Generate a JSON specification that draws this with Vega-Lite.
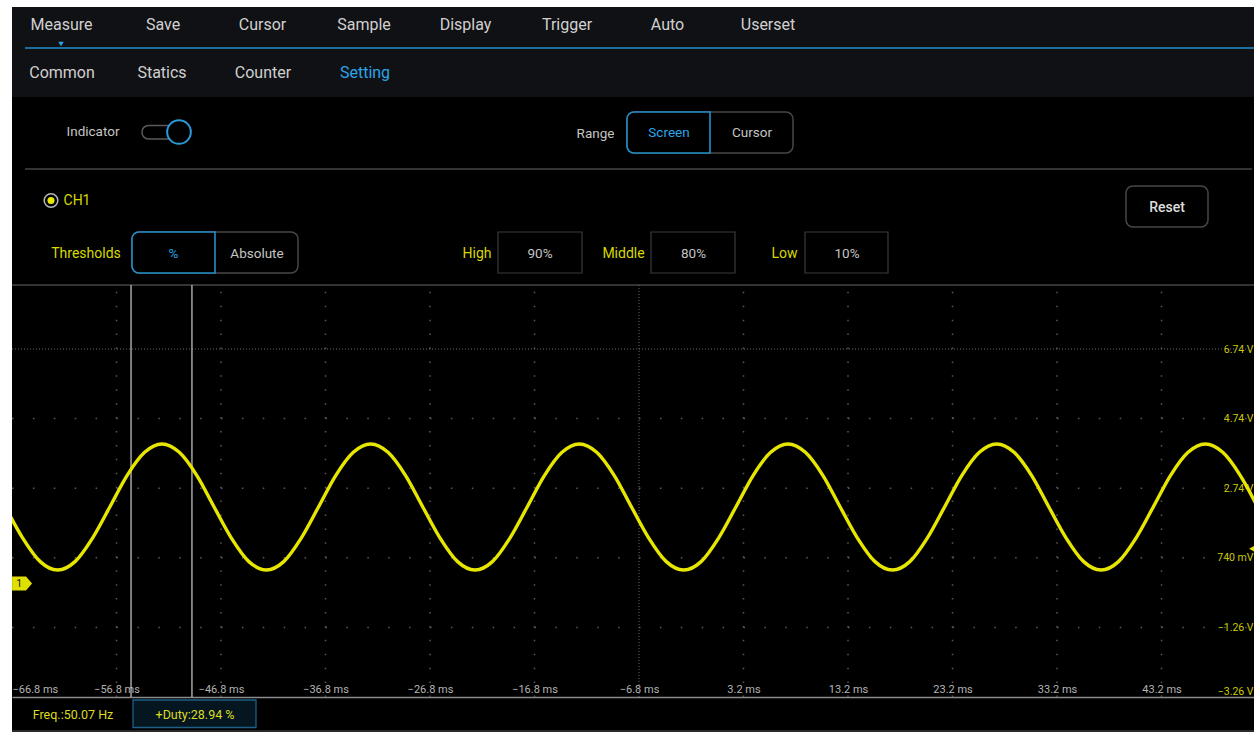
{
  "$schema": "https://vega.github.io/schema/vega-lite/v6.json",
  "width": 1242,
  "height": 725,
  "autosize": {"type": "none"},
  "padding": {"left": 12, "top": 7, "right": 0, "bottom": 0},
  "background": "#ffffff",
  "config": {
    "view": {"fill": "#000000", "stroke": null},
    "text": {"font": "Roboto"},
    "axis": {"labelFont": "Roboto"}
  },
  "datasets": {
    "wave": [
      {"t": -67.43, "v": 2.20}, {"t": -65.76, "v": 1.30}, {"t": -64.10, "v": 0.63}, {"t": -62.44, "v": 0.39},
      {"t": -60.77, "v": 0.63}, {"t": -59.11, "v": 1.30}, {"t": -57.44, "v": 2.20}, {"t": -55.78, "v": 3.11},
      {"t": -54.11, "v": 3.77}, {"t": -52.45, "v": 4.01}, {"t": -50.79, "v": 3.77}, {"t": -49.12, "v": 3.11},
      {"t": -47.46, "v": 2.20}, {"t": -45.79, "v": 1.30}, {"t": -44.13, "v": 0.63}, {"t": -42.47, "v": 0.39},
      {"t": -40.80, "v": 0.63}, {"t": -39.14, "v": 1.30}, {"t": -37.47, "v": 2.20}, {"t": -35.81, "v": 3.11},
      {"t": -34.14, "v": 3.77}, {"t": -32.48, "v": 4.01}, {"t": -30.82, "v": 3.77}, {"t": -29.15, "v": 3.11},
      {"t": -27.49, "v": 2.20}, {"t": -25.82, "v": 1.30}, {"t": -24.16, "v": 0.63}, {"t": -22.49, "v": 0.39},
      {"t": -20.83, "v": 0.63}, {"t": -19.17, "v": 1.30}, {"t": -17.50, "v": 2.20}, {"t": -15.84, "v": 3.11},
      {"t": -14.17, "v": 3.77}, {"t": -12.51, "v": 4.01}, {"t": -10.85, "v": 3.77}, {"t": -9.18, "v": 3.11},
      {"t": -7.52, "v": 2.20}, {"t": -5.85, "v": 1.30}, {"t": -4.19, "v": 0.63}, {"t": -2.52, "v": 0.39},
      {"t": -0.86, "v": 0.63}, {"t": 0.80, "v": 1.30}, {"t": 2.47, "v": 2.20}, {"t": 4.13, "v": 3.11},
      {"t": 5.80, "v": 3.77}, {"t": 7.46, "v": 4.01}, {"t": 9.12, "v": 3.77}, {"t": 10.79, "v": 3.11},
      {"t": 12.45, "v": 2.20}, {"t": 14.12, "v": 1.30}, {"t": 15.78, "v": 0.63}, {"t": 17.45, "v": 0.39},
      {"t": 19.11, "v": 0.63}, {"t": 20.77, "v": 1.30}, {"t": 22.44, "v": 2.20}, {"t": 24.10, "v": 3.11},
      {"t": 25.77, "v": 3.77}, {"t": 27.43, "v": 4.01}, {"t": 29.09, "v": 3.77}, {"t": 30.76, "v": 3.11},
      {"t": 32.42, "v": 2.20}, {"t": 34.09, "v": 1.30}, {"t": 35.75, "v": 0.63}, {"t": 37.42, "v": 0.39},
      {"t": 39.08, "v": 0.63}, {"t": 40.74, "v": 1.30}, {"t": 42.41, "v": 2.20}, {"t": 44.07, "v": 3.11},
      {"t": 45.74, "v": 3.77}, {"t": 47.40, "v": 4.01}, {"t": 49.06, "v": 3.77}, {"t": 50.73, "v": 3.11},
      {"t": 52.39, "v": 2.20}
    ],
    "vgrid": [{"t": -56.8}, {"t": -46.8}, {"t": -36.8}, {"t": -26.8}, {"t": -16.8}, {"t": 3.2}, {"t": 13.2}, {"t": 23.2}, {"t": 33.2}, {"t": 43.2}],
    "hgrid": [{"v": -1.26}, {"v": 0.74}, {"v": 2.74}, {"v": 4.74}],
    "cursors": [{"t": -55.41}, {"t": -49.58}]
  },
  "layer": [
    {
      "data": {"values": [{"panel": "menu", "ux": 12, "ux2": 1254, "uy": 7, "uy2": 97}]},
      "mark": {"type": "rect", "fill": "#101114"},
      "encoding": {
        "x": {"field": "ux", "type": "quantitative", "scale": {"domain": [12, 1254], "nice": false, "zero": false}, "axis": null},
        "y": {"field": "uy", "type": "quantitative", "scale": {"domain": [7, 732], "reverse": true, "nice": false, "zero": false}, "axis": null},
        "x2": {"field": "ux2"}, "y2": {"field": "uy2"}
      }
    },
    {
      "data": {"values": [{"line": "tab", "ux": 25, "ux2": 1254, "uy": 48}]},
      "mark": {"type": "rule", "stroke": "#1f6f9c", "strokeWidth": 2},
      "encoding": {
        "x": {"field": "ux", "type": "quantitative", "scale": {"domain": [12, 1254], "nice": false, "zero": false}, "axis": null},
        "y": {"field": "uy", "type": "quantitative", "scale": {"domain": [7, 732], "reverse": true, "nice": false, "zero": false}, "axis": null},
        "x2": {"field": "ux2"}
      }
    },
    {
      "data": {"values": [{"line": "sep", "ux": 25, "ux2": 1252, "uy": 169}, {"line": "scopeTop", "ux": 12, "ux2": 1254, "uy": 285}]},
      "mark": {"type": "rule", "stroke": "#444444", "strokeWidth": 1.5},
      "encoding": {
        "x": {"field": "ux", "type": "quantitative", "scale": {"domain": [12, 1254], "nice": false, "zero": false}, "axis": null},
        "y": {"field": "uy", "type": "quantitative", "scale": {"domain": [7, 732], "reverse": true, "nice": false, "zero": false}, "axis": null},
        "x2": {"field": "ux2"}
      }
    },
    {
      "data": {"values": [{"line": "footer", "ux": 12, "ux2": 1254, "uy": 731}]},
      "mark": {"type": "rule", "stroke": "#2a2a2a", "strokeWidth": 2},
      "encoding": {
        "x": {"field": "ux", "type": "quantitative", "scale": {"domain": [12, 1254], "nice": false, "zero": false}, "axis": null},
        "y": {"field": "uy", "type": "quantitative", "scale": {"domain": [7, 732], "reverse": true, "nice": false, "zero": false}, "axis": null},
        "x2": {"field": "ux2"}
      }
    },
    {
      "data": {"values": [{"marker": "tab", "ux": 61, "uy": 44}]},
      "mark": {"type": "point", "shape": "triangle-down", "size": 30, "filled": true, "fill": "#2aa5e8", "opacity": 1},
      "encoding": {
        "x": {"field": "ux", "type": "quantitative", "scale": {"domain": [12, 1254], "nice": false, "zero": false}, "axis": null},
        "y": {"field": "uy", "type": "quantitative", "scale": {"domain": [7, 732], "reverse": true, "nice": false, "zero": false}, "axis": null}
      }
    },
    {
      "data": {"values": [
        {"label": "Measure", "ux": 61.5, "uy": 25}, {"label": "Save", "ux": 163, "uy": 25}, {"label": "Cursor", "ux": 262.5, "uy": 25},
        {"label": "Sample", "ux": 364, "uy": 25}, {"label": "Display", "ux": 465.5, "uy": 25}, {"label": "Trigger", "ux": 567, "uy": 25},
        {"label": "Auto", "ux": 667.5, "uy": 25}, {"label": "Userset", "ux": 768, "uy": 25},
        {"label": "Common", "ux": 62, "uy": 73}, {"label": "Statics", "ux": 162, "uy": 73}, {"label": "Counter", "ux": 263, "uy": 73}
      ]},
      "mark": {"type": "text", "fontSize": 16, "color": "#d0d0d0", "align": "center", "baseline": "middle"},
      "encoding": {
        "x": {"field": "ux", "type": "quantitative", "scale": {"domain": [12, 1254], "nice": false, "zero": false}, "axis": null},
        "y": {"field": "uy", "type": "quantitative", "scale": {"domain": [7, 732], "reverse": true, "nice": false, "zero": false}, "axis": null},
        "text": {"field": "label"}
      }
    },
    {
      "data": {"values": [{"label": "Setting", "ux": 365, "uy": 73}]},
      "mark": {"type": "text", "fontSize": 16, "color": "#2aa5e8", "align": "center", "baseline": "middle"},
      "encoding": {
        "x": {"field": "ux", "type": "quantitative", "scale": {"domain": [12, 1254], "nice": false, "zero": false}, "axis": null},
        "y": {"field": "uy", "type": "quantitative", "scale": {"domain": [7, 732], "reverse": true, "nice": false, "zero": false}, "axis": null},
        "text": {"field": "label"}
      }
    },
    {
      "data": {"values": [{"box": "pill", "ux": 142, "ux2": 190, "uy": 125.5, "uy2": 139}]},
      "mark": {"type": "rect", "fill": "#000000", "stroke": "#5a5a5a", "strokeWidth": 1.5, "cornerRadius": 6.5},
      "encoding": {
        "x": {"field": "ux", "type": "quantitative", "scale": {"domain": [12, 1254], "nice": false, "zero": false}, "axis": null},
        "y": {"field": "uy", "type": "quantitative", "scale": {"domain": [7, 732], "reverse": true, "nice": false, "zero": false}, "axis": null},
        "x2": {"field": "ux2"}, "y2": {"field": "uy2"}
      }
    },
    {
      "data": {"values": [
        {"box": "range", "ux": 627, "ux2": 793, "uy": 112, "uy2": 153},
        {"box": "reset", "ux": 1126, "ux2": 1208, "uy": 186, "uy2": 227},
        {"box": "thresholds", "ux": 132, "ux2": 298, "uy": 232, "uy2": 273}
      ]},
      "mark": {"type": "rect", "fill": "#000000", "stroke": "#474747", "strokeWidth": 1.5, "cornerRadius": 7},
      "encoding": {
        "x": {"field": "ux", "type": "quantitative", "scale": {"domain": [12, 1254], "nice": false, "zero": false}, "axis": null},
        "y": {"field": "uy", "type": "quantitative", "scale": {"domain": [7, 732], "reverse": true, "nice": false, "zero": false}, "axis": null},
        "x2": {"field": "ux2"}, "y2": {"field": "uy2"}
      }
    },
    {
      "data": {"values": [
        {"box": "high", "ux": 498, "ux2": 582, "uy": 232, "uy2": 273},
        {"box": "middle", "ux": 651, "ux2": 735, "uy": 232, "uy2": 273},
        {"box": "low", "ux": 805, "ux2": 888, "uy": 232, "uy2": 273}
      ]},
      "mark": {"type": "rect", "fill": "#000000", "stroke": "#3a3a3a", "strokeWidth": 1.2},
      "encoding": {
        "x": {"field": "ux", "type": "quantitative", "scale": {"domain": [12, 1254], "nice": false, "zero": false}, "axis": null},
        "y": {"field": "uy", "type": "quantitative", "scale": {"domain": [7, 732], "reverse": true, "nice": false, "zero": false}, "axis": null},
        "x2": {"field": "ux2"}, "y2": {"field": "uy2"}
      }
    },
    {
      "data": {"values": [
        {"box": "screen", "ux": 627, "ux2": 710, "uy": 112, "uy2": 153},
        {"box": "percent", "ux": 132, "ux2": 215, "uy": 232, "uy2": 273}
      ]},
      "mark": {"type": "rect", "fill": "#000000", "stroke": "#2590c8", "strokeWidth": 1.6, "cornerRadiusTopLeft": 7, "cornerRadiusBottomLeft": 7},
      "encoding": {
        "x": {"field": "ux", "type": "quantitative", "scale": {"domain": [12, 1254], "nice": false, "zero": false}, "axis": null},
        "y": {"field": "uy", "type": "quantitative", "scale": {"domain": [7, 732], "reverse": true, "nice": false, "zero": false}, "axis": null},
        "x2": {"field": "ux2"}, "y2": {"field": "uy2"}
      }
    },
    {
      "data": {"values": [{"control": "toggle knob", "ux": 179, "uy": 132}]},
      "mark": {"type": "point", "shape": "circle", "size": 560, "filled": true, "fill": "#000000", "stroke": "#2a9ad8", "strokeWidth": 2, "opacity": 1},
      "encoding": {
        "x": {"field": "ux", "type": "quantitative", "scale": {"domain": [12, 1254], "nice": false, "zero": false}, "axis": null},
        "y": {"field": "uy", "type": "quantitative", "scale": {"domain": [7, 732], "reverse": true, "nice": false, "zero": false}, "axis": null}
      }
    },
    {
      "data": {"values": [{"control": "radio ring", "ux": 51, "uy": 200.5}]},
      "mark": {"type": "point", "shape": "circle", "size": 185, "filled": true, "fill": "#000000", "stroke": "#b8b8b8", "strokeWidth": 1.5, "opacity": 1},
      "encoding": {
        "x": {"field": "ux", "type": "quantitative", "scale": {"domain": [12, 1254], "nice": false, "zero": false}, "axis": null},
        "y": {"field": "uy", "type": "quantitative", "scale": {"domain": [7, 732], "reverse": true, "nice": false, "zero": false}, "axis": null}
      }
    },
    {
      "data": {"values": [{"control": "radio dot", "ux": 51, "uy": 200.5}]},
      "mark": {"type": "point", "shape": "circle", "size": 50, "filled": true, "fill": "#e8e800", "opacity": 1},
      "encoding": {
        "x": {"field": "ux", "type": "quantitative", "scale": {"domain": [12, 1254], "nice": false, "zero": false}, "axis": null},
        "y": {"field": "uy", "type": "quantitative", "scale": {"domain": [7, 732], "reverse": true, "nice": false, "zero": false}, "axis": null}
      }
    },
    {
      "data": {"values": [
        {"label": "Indicator", "ux": 93, "uy": 132}, {"label": "Range", "ux": 595.5, "uy": 134},
        {"label": "Cursor", "ux": 752, "uy": 133}, {"label": "Absolute", "ux": 257, "uy": 253.5},
        {"label": "90%", "ux": 540, "uy": 253.5}, {"label": "80%", "ux": 693.5, "uy": 253.5}, {"label": "10%", "ux": 847, "uy": 253.5}
      ]},
      "mark": {"type": "text", "fontSize": 13.5, "color": "#c4c4c4", "align": "center", "baseline": "middle"},
      "encoding": {
        "x": {"field": "ux", "type": "quantitative", "scale": {"domain": [12, 1254], "nice": false, "zero": false}, "axis": null},
        "y": {"field": "uy", "type": "quantitative", "scale": {"domain": [7, 732], "reverse": true, "nice": false, "zero": false}, "axis": null},
        "text": {"field": "label"}
      }
    },
    {
      "data": {"values": [{"label": "Reset", "ux": 1167, "uy": 207.5}]},
      "mark": {"type": "text", "fontSize": 14, "fontWeight": 500, "color": "#dedede", "align": "center", "baseline": "middle"},
      "encoding": {
        "x": {"field": "ux", "type": "quantitative", "scale": {"domain": [12, 1254], "nice": false, "zero": false}, "axis": null},
        "y": {"field": "uy", "type": "quantitative", "scale": {"domain": [7, 732], "reverse": true, "nice": false, "zero": false}, "axis": null},
        "text": {"field": "label"}
      }
    },
    {
      "data": {"values": [{"label": "Screen", "ux": 669, "uy": 133}, {"label": "%", "ux": 173.5, "uy": 253.5}]},
      "mark": {"type": "text", "fontSize": 13.5, "color": "#2aa5e8", "align": "center", "baseline": "middle"},
      "encoding": {
        "x": {"field": "ux", "type": "quantitative", "scale": {"domain": [12, 1254], "nice": false, "zero": false}, "axis": null},
        "y": {"field": "uy", "type": "quantitative", "scale": {"domain": [7, 732], "reverse": true, "nice": false, "zero": false}, "axis": null},
        "text": {"field": "label"}
      }
    },
    {
      "data": {"values": [
        {"label": "CH1", "ux": 77, "uy": 201}, {"label": "Thresholds", "ux": 86, "uy": 253.5},
        {"label": "High", "ux": 477, "uy": 253.5}, {"label": "Middle", "ux": 623.5, "uy": 253.5}, {"label": "Low", "ux": 784.5, "uy": 253.5}
      ]},
      "mark": {"type": "text", "fontSize": 14, "color": "#d8d800", "align": "center", "baseline": "middle"},
      "encoding": {
        "x": {"field": "ux", "type": "quantitative", "scale": {"domain": [12, 1254], "nice": false, "zero": false}, "axis": null},
        "y": {"field": "uy", "type": "quantitative", "scale": {"domain": [7, 732], "reverse": true, "nice": false, "zero": false}, "axis": null},
        "text": {"field": "label"}
      }
    },
    {
      "data": {"values": [{"box": "duty", "ux": 133, "ux2": 256, "uy": 700, "uy2": 727.5}]},
      "mark": {"type": "rect", "fill": "#061620", "stroke": "#1d5f86", "strokeWidth": 1.3},
      "encoding": {
        "x": {"field": "ux", "type": "quantitative", "scale": {"domain": [12, 1254], "nice": false, "zero": false}, "axis": null},
        "y": {"field": "uy", "type": "quantitative", "scale": {"domain": [7, 732], "reverse": true, "nice": false, "zero": false}, "axis": null},
        "x2": {"field": "ux2"}, "y2": {"field": "uy2"}
      }
    },
    {
      "data": {"values": [{"label": "Freq.:50.07 Hz", "ux": 73, "uy": 714.5}, {"label": "+Duty:28.94 %", "ux": 195, "uy": 714.5}]},
      "mark": {"type": "text", "fontSize": 12.5, "color": "#dcdc20", "align": "center", "baseline": "middle"},
      "encoding": {
        "x": {"field": "ux", "type": "quantitative", "scale": {"domain": [12, 1254], "nice": false, "zero": false}, "axis": null},
        "y": {"field": "uy", "type": "quantitative", "scale": {"domain": [7, 732], "reverse": true, "nice": false, "zero": false}, "axis": null},
        "text": {"field": "label"}
      }
    },
    {
      "data": {"name": "vgrid"},
      "mark": {"type": "rule", "stroke": "#5a5a5a", "strokeWidth": 1.5, "strokeDash": [1.5, 12.42]},
      "encoding": {
        "x": {"field": "t", "type": "quantitative", "scale": {"domain": [-66.8, 52.05], "nice": false, "zero": false}, "axis": null},
        "y": {"datum": -3.26, "type": "quantitative", "scale": {"domain": [-4.266, 16.568], "nice": false, "zero": false}, "axis": null},
        "y2": {"datum": 8.58}
      }
    },
    {
      "data": {"name": "hgrid"},
      "mark": {"type": "rule", "stroke": "#5a5a5a", "strokeWidth": 1.5, "strokeDash": [1.5, 19.4]},
      "encoding": {
        "x": {"datum": -66.8, "type": "quantitative", "scale": {"domain": [-66.8, 52.05], "nice": false, "zero": false}, "axis": null},
        "x2": {"datum": 52.05},
        "y": {"field": "v", "type": "quantitative", "scale": {"domain": [-4.266, 16.568], "nice": false, "zero": false}, "axis": null}
      }
    },
    {
      "data": {"values": [{"t": -6.8}]},
      "mark": {"type": "rule", "stroke": "#6a6a6a", "strokeWidth": 1, "strokeDash": [1, 2]},
      "encoding": {
        "x": {"field": "t", "type": "quantitative", "scale": {"domain": [-66.8, 52.05], "nice": false, "zero": false}, "axis": null},
        "y": {"datum": -3.26, "type": "quantitative", "scale": {"domain": [-4.266, 16.568], "nice": false, "zero": false}, "axis": null},
        "y2": {"datum": 8.58}
      }
    },
    {
      "data": {"values": [{"v": 6.74}]},
      "mark": {"type": "rule", "stroke": "#6a6a6a", "strokeWidth": 1, "strokeDash": [1, 2]},
      "encoding": {
        "x": {"datum": -66.8, "type": "quantitative", "scale": {"domain": [-66.8, 52.05], "nice": false, "zero": false}, "axis": null},
        "x2": {"datum": 52.05},
        "y": {"field": "v", "type": "quantitative", "scale": {"domain": [-4.266, 16.568], "nice": false, "zero": false}, "axis": null}
      }
    },
    {
      "data": {"name": "cursors"},
      "mark": {"type": "rule", "stroke": "#cfcfcf", "strokeWidth": 1.2},
      "encoding": {
        "x": {"field": "t", "type": "quantitative", "scale": {"domain": [-66.8, 52.05], "nice": false, "zero": false}, "axis": null},
        "y": {"datum": -3.26, "type": "quantitative", "scale": {"domain": [-4.266, 16.568], "nice": false, "zero": false}, "axis": null},
        "y2": {"datum": 8.58}
      }
    },
    {
      "data": {"name": "wave"},
      "mark": {"type": "line", "interpolate": "monotone", "color": "#e6e600", "strokeWidth": 3.4, "clip": true},
      "encoding": {
        "x": {
          "field": "t", "type": "quantitative",
          "scale": {"domain": [-66.8, 52.05], "nice": false, "zero": false},
          "axis": {
            "orient": "top", "offset": -690, "title": null,
            "values": [-66.8, -56.8, -46.8, -36.8, -26.8, -16.8, -6.8, 3.2, 13.2, 23.2, 33.2, 43.2],
            "labelExpr": "format(datum.value, '.1f') + ' ms'",
            "grid": false, "ticks": false, "tickSize": 0,
            "domain": true, "domainColor": "#8a8a8a", "domainWidth": 1.3,
            "labelColor": "#b4b4b4", "labelFontSize": 11, "labelPadding": 3,
            "labelFlush": true, "labelOverlap": false, "labelBound": false
          }
        },
        "y": {
          "field": "v", "type": "quantitative",
          "scale": {"domain": [-4.266, 16.568], "nice": false, "zero": false},
          "axis": {
            "orient": "right", "offset": 0, "title": null,
            "values": [-3.26, -1.26, 0.74, 2.74, 4.74, 6.74],
            "labelExpr": "datum.value == 0.74 ? '740 mV' : format(datum.value, '.2f') + ' V'",
            "grid": false, "ticks": false, "tickSize": 0, "domain": false,
            "labelAlign": "right", "labelPadding": -1,
            "labelBaseline": {"condition": {"test": "datum.value < -3", "value": "bottom"}, "value": "middle"},
            "labelColor": "#cccc00", "labelFontSize": 10.5,
            "labelFlush": false, "labelOverlap": false, "labelBound": false
          }
        }
      }
    },
    {
      "data": {"values": [{"marker": "CH1 ground", "t": -65.84, "v": 0}]},
      "mark": {"type": "point", "shape": "M-1,-0.7L0.4,-0.7L1,0L0.4,0.7L-1,0.7Z", "size": 400, "filled": true, "fill": "#e0e000", "opacity": 1, "strokeWidth": 0},
      "encoding": {
        "x": {"field": "t", "type": "quantitative", "scale": {"domain": [-66.8, 52.05], "nice": false, "zero": false}, "axis": null},
        "y": {"field": "v", "type": "quantitative", "scale": {"domain": [-4.266, 16.568], "nice": false, "zero": false}, "axis": null}
      }
    },
    {
      "data": {"values": [{"marker": "1", "t": -66.1, "v": 0}]},
      "mark": {"type": "text", "fontSize": 10.5, "color": "#111111", "align": "center", "baseline": "middle"},
      "encoding": {
        "x": {"field": "t", "type": "quantitative", "scale": {"domain": [-66.8, 52.05], "nice": false, "zero": false}, "axis": null},
        "y": {"field": "v", "type": "quantitative", "scale": {"domain": [-4.266, 16.568], "nice": false, "zero": false}, "axis": null},
        "text": {"field": "marker"}
      }
    },
    {
      "data": {"values": [{"marker": "trigger", "t": 52.05, "v": 1.0}]},
      "mark": {"type": "point", "shape": "triangle-left", "size": 130, "filled": true, "fill": "#e0e000", "opacity": 1, "clip": true},
      "encoding": {
        "x": {"field": "t", "type": "quantitative", "scale": {"domain": [-66.8, 52.05], "nice": false, "zero": false}, "axis": null},
        "y": {"field": "v", "type": "quantitative", "scale": {"domain": [-4.266, 16.568], "nice": false, "zero": false}, "axis": null}
      }
    }
  ],
  "resolve": {"scale": {"x": "independent", "y": "independent"}}
}
